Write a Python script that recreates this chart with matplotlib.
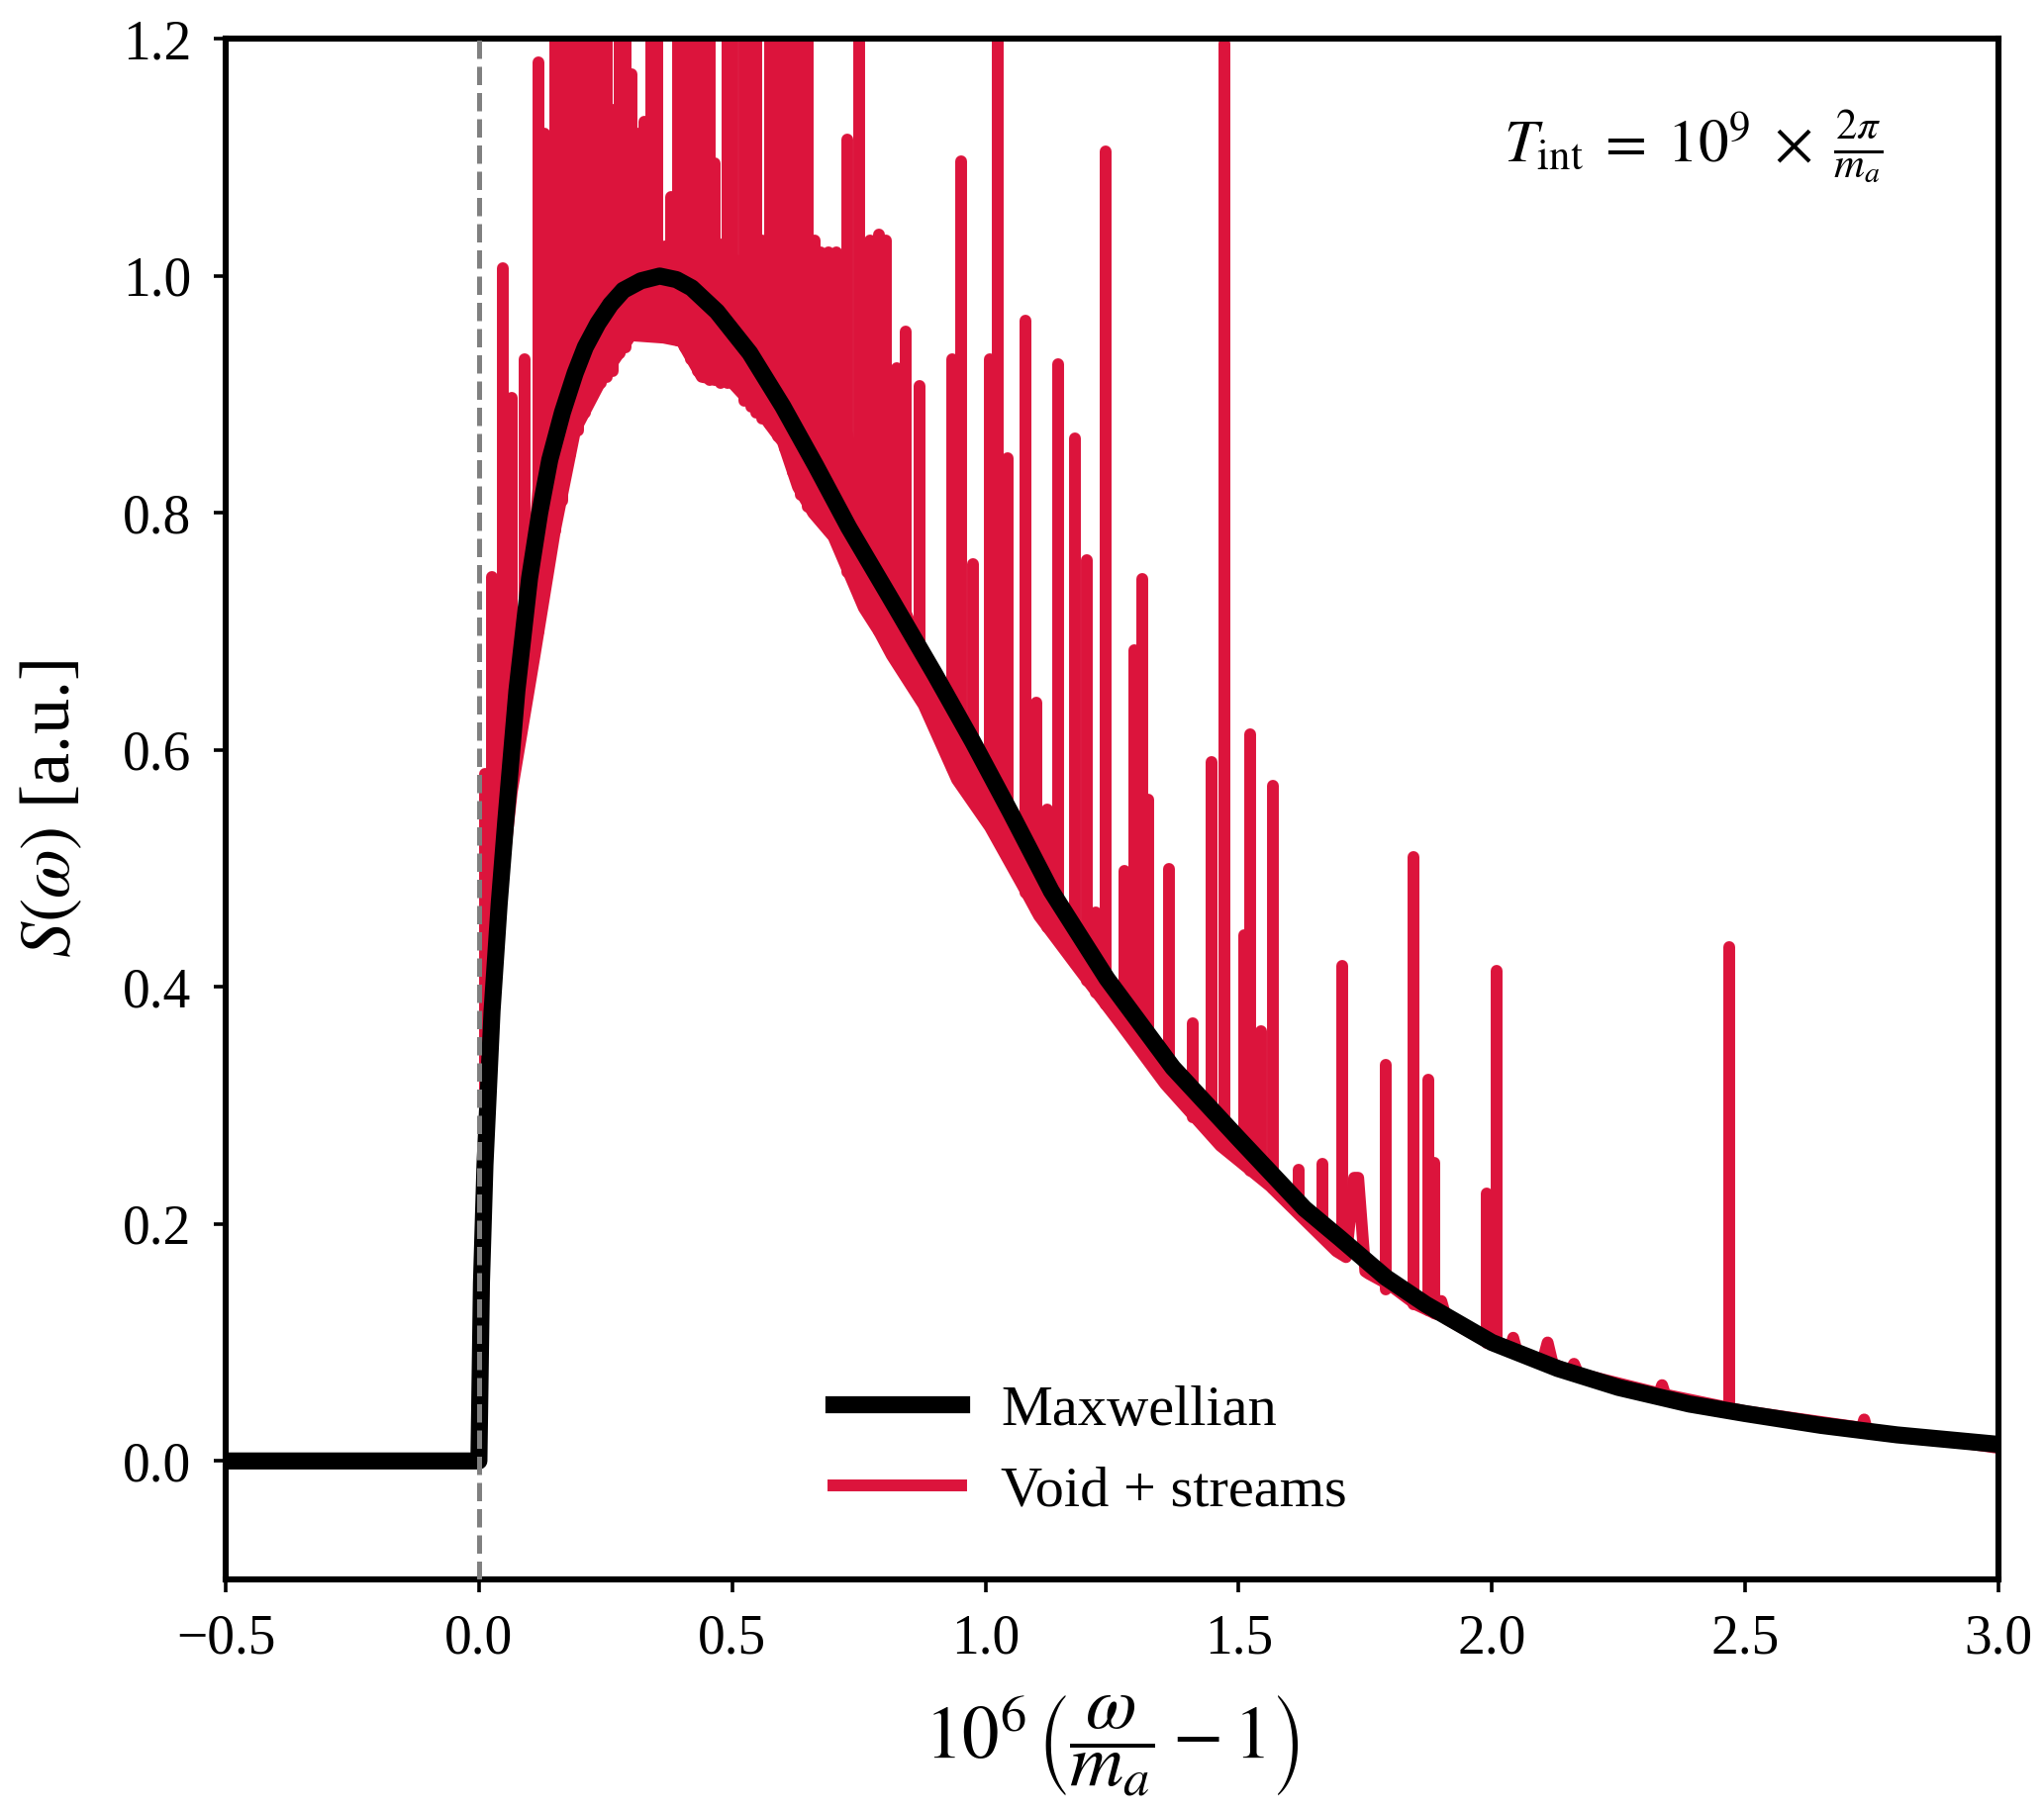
"""Spectrum S(omega): Maxwellian vs void + streams, T_int = 1e9 x 2pi/m_a."""

import numpy as np
import matplotlib
matplotlib.use("Agg")
import matplotlib.pyplot as plt
from matplotlib.lines import Line2D


# %% Data
# Maxwellian line shape
maxw_x = [-0.5, 0.0, 0.005, 0.012, 0.026, 0.04, 0.053, 0.075, 0.10, 0.12,
          0.14, 0.165, 0.19, 0.21, 0.235, 0.26, 0.285, 0.32, 0.357, 0.39,
          0.42, 0.47, 0.535, 0.60, 0.665, 0.73, 0.81, 0.90, 0.975, 1.05,
          1.13, 1.24, 1.37, 1.50, 1.63, 1.70, 1.79, 1.87, 2.0, 2.13,
          2.25, 2.39, 2.5, 2.65, 2.8, 2.9, 3.0]
maxw_y = [0.0, 0.0, 0.15, 0.25, 0.38, 0.47, 0.54, 0.65, 0.745, 0.80,
          0.845, 0.885, 0.918, 0.94, 0.96, 0.976, 0.988, 0.996, 1.0, 0.997,
          0.99, 0.97, 0.935, 0.89, 0.84, 0.788, 0.73, 0.664, 0.607, 0.547,
          0.481, 0.407, 0.332, 0.272, 0.213, 0.188, 0.155, 0.132, 0.10, 0.078,
          0.062, 0.048, 0.04, 0.03, 0.022, 0.018, 0.014]

# void + streams: lower trace and upper edge of the fast-oscillation band
void_x = [-0.5, 0.0, 0.002, 0.015, 0.035, 0.065, 0.11, 0.15, 0.19, 0.245,
          0.30, 0.365, 0.40, 0.44, 0.50, 0.565, 0.60, 0.63, 0.66, 0.70,
          0.73, 0.76, 0.79, 0.815, 0.878, 0.944, 1.009, 1.073, 1.106, 1.185,
          1.27, 1.355, 1.464, 1.562, 1.693, 1.712, 1.728, 1.736, 1.75, 1.757,
          1.80, 1.85, 1.89, 1.90, 1.91, 2.0, 2.035, 2.042, 2.05, 2.10,
          2.11, 2.12, 2.155, 2.162, 2.17, 2.33, 2.336, 2.342, 2.5, 2.73,
          2.735, 2.74, 3.0]
void_lo = [0.0, 0.0, 0.0, 0.28, 0.45, 0.565, 0.68, 0.785, 0.87, 0.915,
           0.95, 0.948, 0.945, 0.915, 0.91, 0.88, 0.86, 0.822, 0.80, 0.78,
           0.75, 0.72, 0.70, 0.68, 0.638, 0.575, 0.535, 0.486, 0.46, 0.415,
           0.367, 0.318, 0.266, 0.232, 0.177, 0.172, 0.239, 0.239, 0.16, 0.158,
           0.148, 0.132, 0.124, 0.135, 0.12, 0.098, 0.093, 0.104, 0.091, 0.084,
           0.10, 0.082, 0.076, 0.082, 0.074, 0.057, 0.064, 0.056, 0.042, 0.028,
           0.035, 0.027, 0.011]
void_hi = [0.0, 0.0, 0.0, 0.28, 0.45, 0.60, 0.85, 0.99, 1.0, 1.01,
           1.02, 1.03, 1.03, 1.03, 1.02, 1.01, 1.0, 0.98, 0.96, 0.93,
           0.88, 0.83, 0.79, 0.76, 0.69, 0.63, 0.578, 0.525, 0.496, 0.44,
           0.39, 0.34, 0.288, 0.245, 0.19, 0.185, 0.239, 0.239, 0.17, 0.165,
           0.148, 0.132, 0.124, 0.135, 0.12, 0.098, 0.093, 0.104, 0.091, 0.084,
           0.10, 0.082, 0.076, 0.082, 0.074, 0.057, 0.064, 0.056, 0.042, 0.028,
           0.035, 0.027, 0.011]

# stream spikes: position, top, foot (tops > 1.2 are clipped by the axes)
spike_x = [0.012, 0.026, 0.047, 0.065, 0.09, 0.117, 0.129, 0.150, 0.165, 0.180,
           0.195, 0.210, 0.225, 0.240, 0.252, 0.265, 0.278, 0.290, 0.302, 0.314,
           0.327, 0.340, 0.353, 0.368, 0.380, 0.393, 0.406, 0.418, 0.432, 0.445,
           0.455, 0.465, 0.478, 0.490, 0.500, 0.525, 0.538, 0.548, 0.559, 0.575,
           0.590, 0.605, 0.620, 0.635, 0.650, 0.663, 0.675, 0.690, 0.705, 0.728,
           0.750, 0.772, 0.790, 0.803, 0.826, 0.843, 0.870, 0.935, 0.952, 0.975,
           1.009, 1.025, 1.044, 1.079, 1.100, 1.122, 1.143, 1.177, 1.200, 1.217,
           1.237, 1.274, 1.294, 1.310, 1.321, 1.362, 1.409, 1.446, 1.472, 1.511,
           1.523, 1.544, 1.568, 1.618, 1.665, 1.704, 1.790, 1.845, 1.874, 1.886,
           1.990, 2.009, 2.469]
spike_top = [0.58, 0.746, 1.007, 0.897, 0.93, 1.18, 1.12, 1.3, 1.3, 1.3,
             1.3, 1.3, 1.3, 1.3, 1.3, 1.14, 1.3, 1.3, 1.17, 1.12,
             1.13, 1.3, 1.3, 1.025, 1.067, 1.3, 1.3, 1.3, 1.3, 1.3,
             1.3, 1.095, 1.027, 1.3, 1.3, 1.3, 1.3, 1.3, 1.03, 1.3,
             1.3, 1.3, 1.3, 1.3, 1.3, 1.03, 1.02, 1.02, 1.02, 1.115,
             1.3, 1.03, 1.035, 1.03, 0.922, 0.953, 0.907, 0.93, 1.097, 0.757,
             0.93, 1.3, 0.846, 0.962, 0.64, 0.55, 0.926, 0.863, 0.76, 0.463,
             1.105, 0.498, 0.684, 0.744, 0.558, 0.50, 0.369, 0.59, 1.196, 0.444,
             0.613, 0.363, 0.57, 0.246, 0.251, 0.418, 0.334, 0.51, 0.322, 0.252,
             0.226, 0.414, 0.434]
spike_foot = [0.25, 0.37, 0.50, 0.57, 0.64, 0.70, 0.74, 0.785, 0.81, 0.85,
              0.87, 0.885, 0.90, 0.91, 0.915, 0.92, 0.935, 0.94, 0.95, 0.95,
              0.95, 0.95, 0.95, 0.948, 0.947, 0.946, 0.94, 0.93, 0.92, 0.915,
              0.912, 0.912, 0.91, 0.91, 0.91, 0.895, 0.89, 0.885, 0.88, 0.875,
              0.865, 0.855, 0.835, 0.815, 0.805, 0.80, 0.795, 0.785, 0.775, 0.75,
              0.73, 0.715, 0.70, 0.69, 0.675, 0.665, 0.645, 0.585, 0.575, 0.56,
              0.54, 0.53, 0.51, 0.48, 0.465, 0.45, 0.44, 0.42, 0.405, 0.395,
              0.385, 0.365, 0.355, 0.345, 0.34, 0.315, 0.29, 0.275, 0.265, 0.25,
              0.245, 0.24, 0.23, 0.21, 0.19, 0.175, 0.145, 0.132, 0.127, 0.125,
              0.10, 0.097, 0.044]

xticks = [-0.5, 0.0, 0.5, 1.0, 1.5, 2.0, 2.5, 3.0]
yticks = [0.0, 0.2, 0.4, 0.6, 0.8, 1.0, 1.2]

RED = "#DC143C"


# %% Style
plt.rcParams["font.family"] = ["Liberation Serif", "DejaVu Serif"]
plt.rcParams["mathtext.fontset"] = "stix"

fig, ax = plt.subplots(figsize=(10.325, 9.14), dpi=200)
fig.subplots_adjust(left=0.1104, right=0.9777, top=0.9784, bottom=0.1269)

# %% Void + streams
ax.fill_between(void_x, void_lo, void_hi, color=RED, lw=0, zorder=2)
ax.plot(void_x, void_lo, color=RED, lw=4.3, solid_capstyle="round",
        solid_joinstyle="round", zorder=2)
ax.vlines(spike_x, spike_foot, spike_top, color=RED, lw=4.3,
          capstyle="round", zorder=2)

# %% Maxwellian
ax.plot(maxw_x, maxw_y, color="black", lw=6.2, solid_joinstyle="round",
        solid_capstyle="butt", zorder=3)

ax.axvline(0.0, color="grey", ls="--", lw=1.8, zorder=4)

ax.set_xlim(-0.5, 3.0)
ax.set_ylim(-0.1, 1.2)
ax.set_xticks(xticks)
ax.set_yticks(yticks)
ax.set_xticklabels([f"{t:.1f}".replace("-", "\u2212") for t in xticks])
ax.set_yticklabels([f"{t:.1f}" for t in yticks])
ax.tick_params(direction="out", length=4.5, width=1.3, labelsize=20, pad=8)
for sp in ax.spines.values():
    sp.set_linewidth(2.2)

ax.set_xlabel(r"$10^6\,\left(\dfrac{\omega}{m_a}-1\right)$", fontsize=27,
              labelpad=10)
ax.set_ylabel(r"$S(\omega)$ [a.u.]", fontsize=26, labelpad=14)

ax.text(0.935, 0.93, r"$T_{\rm int}\;=\;10^9\;\times\;\frac{2\pi}{m_a}$",
        transform=ax.transAxes, ha="right", va="center", fontsize=22)

handles = [Line2D([], [], color="black", lw=6.2),
           Line2D([], [], color=RED, lw=4.3)]
ax.legend(handles, ["Maxwellian", "Void + streams"], loc="lower left",
          bbox_to_anchor=(0.33, 0.025), frameon=False, fontsize=21,
          handlelength=2.2, handletextpad=0.7, borderaxespad=0)

fig.savefig("out.png", dpi=200)
